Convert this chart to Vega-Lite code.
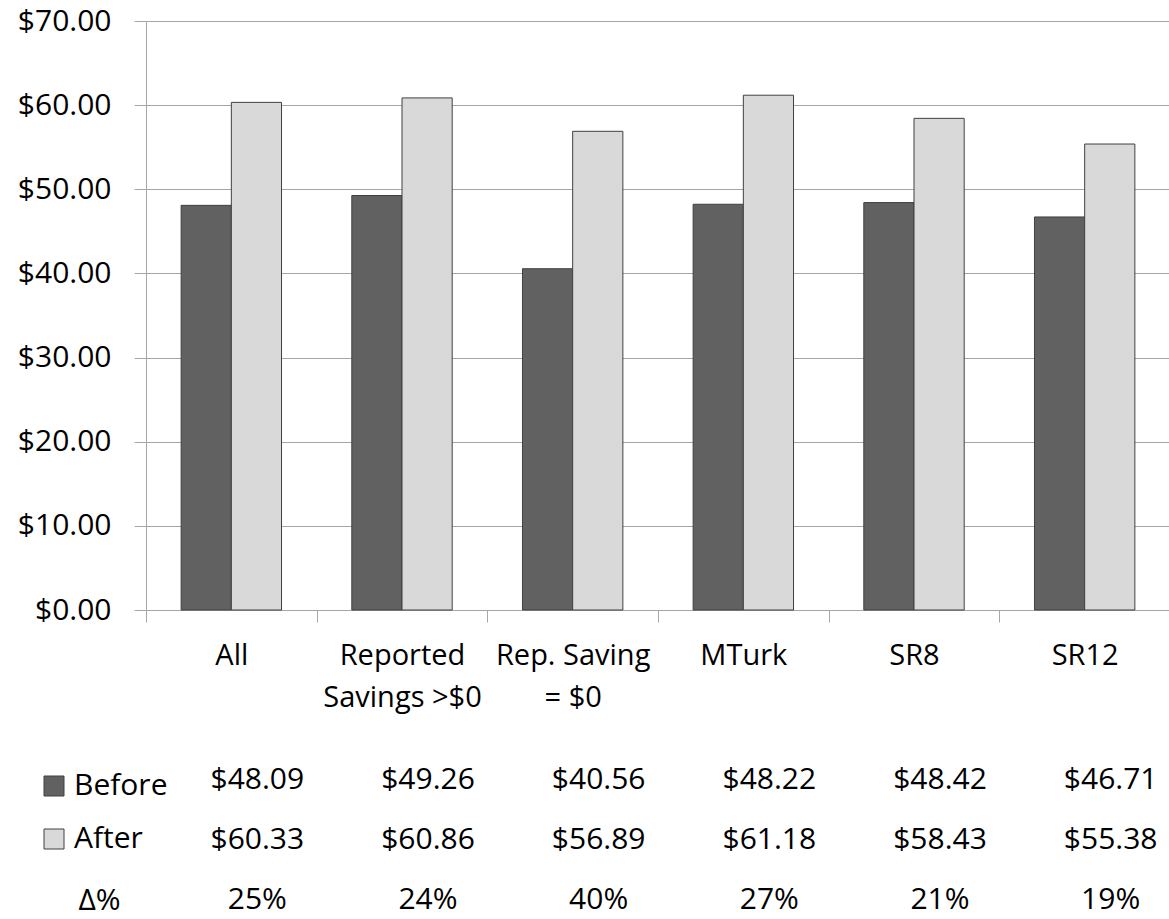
{
  "$schema": "https://vega.github.io/schema/vega-lite/v6.json",
  "autosize": {"type": "pad"},
  "padding": {"left": 17, "top": 6, "right": 0, "bottom": 5},
  "background": "white",
  "config": {"font": "Open Sans", "view": {"stroke": null}},
  "bounds": "flush",
  "spacing": 170,
  "data": {
    "values": [
      {"cat": "All", "before": 48.09, "after": 60.33, "delta": 0.25},
      {"cat": "Reported|Savings >$0", "before": 49.26, "after": 60.86, "delta": 0.24},
      {"cat": "Rep. Saving|= $0", "before": 40.56, "after": 56.89, "delta": 0.40},
      {"cat": "MTurk", "before": 48.22, "after": 61.18, "delta": 0.27},
      {"cat": "SR8", "before": 48.42, "after": 58.43, "delta": 0.21},
      {"cat": "SR12", "before": 46.71, "after": 55.38, "delta": 0.19}
    ]
  },
  "vconcat": [
    {
      "width": 1024,
      "height": 589,
      "transform": [{"fold": ["before", "after"], "as": ["series", "value"]}],
      "mark": {"type": "bar", "stroke": "#404040", "strokeWidth": 1},
      "encoding": {
        "x": {
          "field": "cat", "type": "nominal", "sort": null,
          "scale": {"paddingInner": 0, "paddingOuter": 0},
          "axis": {
            "title": null, "labelAngle": 0, "tickBand": "extent", "tickSize": 12,
            "tickColor": "#a6a6a6", "domainColor": "#a6a6a6", "labelFontSize": 29,
            "labelColor": "black", "labelPadding": 19, "labelLineHeight": 42,
            "labelExpr": "split(datum.label, '|')", "grid": false
          }
        },
        "xOffset": {
          "field": "series", "sort": ["before", "after"],
          "scale": {"paddingOuter": 0.7, "paddingInner": 0}
        },
        "y": {
          "field": "value", "type": "quantitative",
          "scale": {"domain": [0, 70], "nice": false},
          "axis": {
            "title": null, "values": [0, 10, 20, 30, 40, 50, 60, 70], "format": "$.2f",
            "grid": true, "gridColor": "#a6a6a6", "domainColor": "#a6a6a6",
            "tickColor": "#a6a6a6", "tickSize": 12, "labelFontSize": 30,
            "labelColor": "black", "labelPadding": 23
          }
        },
        "color": {
          "field": "series", "type": "nominal",
          "scale": {"domain": ["before", "after"], "range": ["#616161", "#d9d9d9"]},
          "legend": {
            "title": null, "orient": "none", "legendX": -107, "legendY": 750,
            "symbolType": "square", "symbolSize": 400, "symbolStrokeColor": "#404040",
            "symbolStrokeWidth": 1, "labelFontSize": 30, "labelColor": "black",
            "labelOffset": 5, "rowPadding": 23, "padding": 0, "direction": "vertical",
            "labelExpr": "datum.value == 'before' ? 'Before' : 'After'"
          }
        }
      }
    },
    {
      "width": 1024,
      "height": 120,
      "transform": [{"fold": ["before", "after", "delta"], "as": ["row", "value"]}],
      "encoding": {
        "x": {
          "field": "cat", "type": "nominal", "sort": null,
          "scale": {"paddingInner": 0, "paddingOuter": 0}, "axis": null
        },
        "y": {
          "field": "row", "type": "nominal",
          "scale": {"type": "point", "domain": ["before", "after", "delta"], "padding": 0},
          "axis": {
            "title": null, "domain": false, "ticks": false, "grid": false,
            "labelExpr": "datum.value == 'delta' ? 'Δ%' : ''", "labelAlign": "left",
            "labelPadding": 68, "labelFontSize": 30, "labelColor": "black"
          }
        }
      },
      "layer": [
        {
          "transform": [{"filter": "datum.row != 'delta'"}],
          "mark": {"type": "text", "fontSize": 30, "color": "black", "dx": 26},
          "encoding": {"text": {"field": "value", "type": "quantitative", "format": "$.2f"}}
        },
        {
          "transform": [{"filter": "datum.row == 'delta'"}],
          "mark": {"type": "text", "fontSize": 30, "color": "black", "dx": 26},
          "encoding": {"text": {"field": "value", "type": "quantitative", "format": ".0%"}}
        }
      ]
    }
  ]
}
